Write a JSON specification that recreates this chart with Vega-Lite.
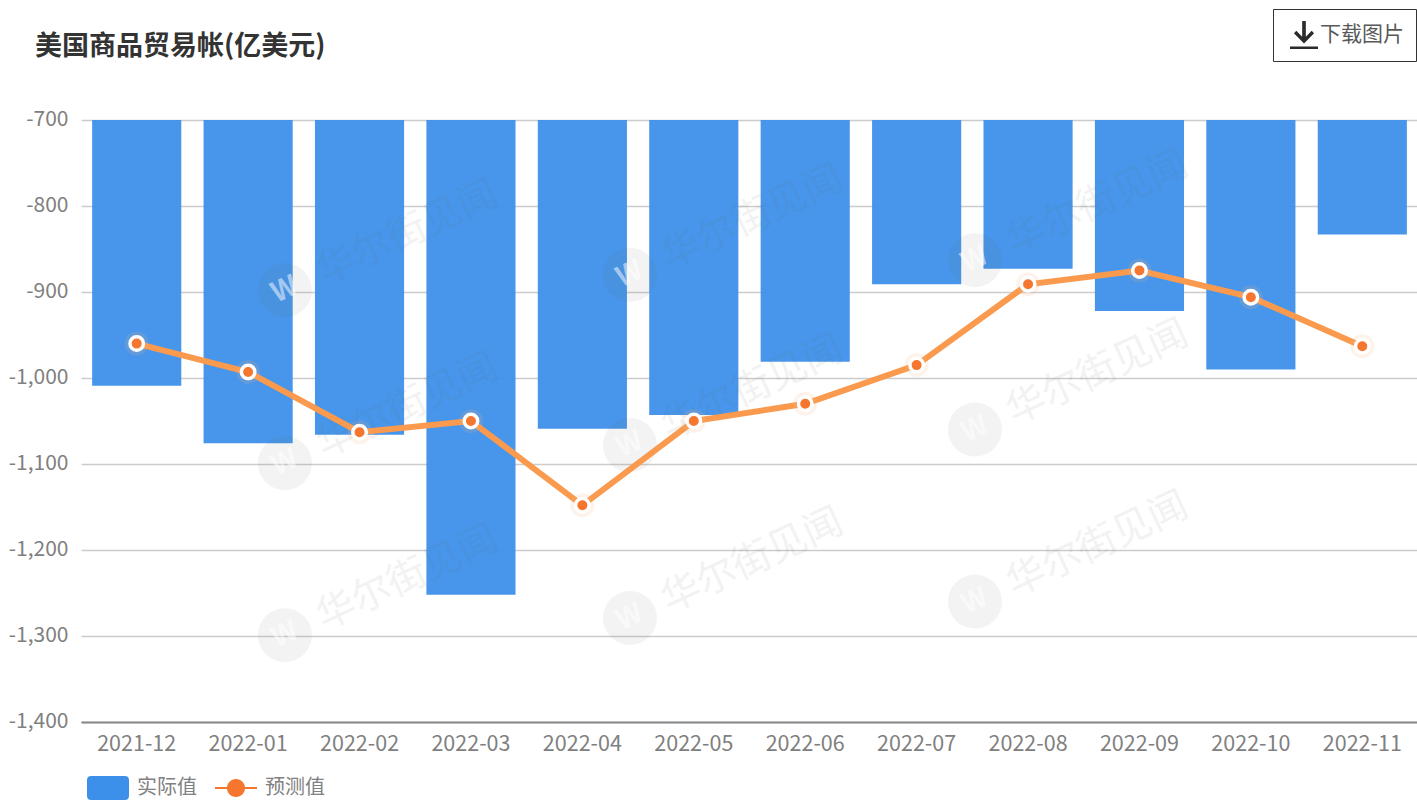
{
  "$schema": "https://vega.github.io/schema/vega-lite/v6.json",
  "width": 1337,
  "height": 602,
  "autosize": {"type": "none"},
  "padding": {"left": 81, "top": 120, "right": 0, "bottom": 79},
  "background": "#ffffff",
  "title": {
    "text": "美国商品贸易帐(亿美元)",
    "anchor": "start",
    "frame": "group",
    "dx": -46,
    "dy": 52,
    "offset": 0,
    "font": "Noto Sans CJK SC",
    "fontSize": 27,
    "fontWeight": "bold",
    "color": "#333333"
  },
  "config": {
    "view": {"stroke": null},
    "font": "Noto Sans CJK SC"
  },
  "datasets": {
    "trade": [
      {"month": "2021-12", "actual": -1009, "forecast": -960},
      {"month": "2022-01", "actual": -1076, "forecast": -993},
      {"month": "2022-02", "actual": -1066, "forecast": -1063},
      {"month": "2022-03", "actual": -1252, "forecast": -1050},
      {"month": "2022-04", "actual": -1059, "forecast": -1148},
      {"month": "2022-05", "actual": -1043, "forecast": -1050},
      {"month": "2022-06", "actual": -981, "forecast": -1030},
      {"month": "2022-07", "actual": -891, "forecast": -985},
      {"month": "2022-08", "actual": -873, "forecast": -891},
      {"month": "2022-09", "actual": -922, "forecast": -875},
      {"month": "2022-10", "actual": -990, "forecast": -906},
      {"month": "2022-11", "actual": -833, "forecast": -963}
    ],
    "stamp": [
      {"column": 0, "level": -898},
      {"column": 0, "level": -1099},
      {"column": 0, "level": -1299},
      {"column": 1, "level": -880},
      {"column": 1, "level": -1078},
      {"column": 1, "level": -1279},
      {"column": 2, "level": -863},
      {"column": 2, "level": -1060},
      {"column": 2, "level": -1260}
    ]
  },
  "resolve": {"scale": {"x": "independent"}},
  "layer": [
    {
      "data": {"name": "trade"},
      "mark": {"type": "bar", "opacity": 0.95},
      "encoding": {
        "x": {
          "field": "month",
          "type": "nominal",
          "sort": null,
          "scale": {"paddingInner": 0.2, "paddingOuter": 0.1},
          "axis": {
            "title": null,
            "labelAngle": 0,
            "labelFontSize": 21.5,
            "labelColor": "#808080",
            "labelPadding": 11,
            "ticks": false,
            "domainColor": "#888888",
            "domainWidth": 2,
            "grid": false
          }
        },
        "y": {
          "field": "actual",
          "type": "quantitative",
          "scale": {"domain": [-1400, -700], "nice": false, "zero": false},
          "axis": {
            "title": null,
            "values": [-1400, -1300, -1200, -1100, -1000, -900, -800, -700],
            "labelExpr": "replace(format(datum.value, ','), '−', '-')",
            "labelFontSize": 21,
            "labelColor": "#808080",
            "labelPadding": 13,
            "labelOffset": -0.5,
            "ticks": false,
            "domain": false,
            "grid": true,
            "gridColor": "#cccccc",
            "gridWidth": 1.5
          }
        },
        "y2": {"datum": -700},
        "fill": {
          "datum": "实际值",
          "scale": {"range": ["#3d90ea"]},
          "legend": {
            "title": null,
            "orient": "none",
            "legendX": 6,
            "legendY": 647,
            "symbolType": "M-0.8,-0.57H0.8Q1,-0.57,1,-0.37V0.37Q1,0.57,0.8,0.57H-0.8Q-1,0.57,-1,0.37V-0.37Q-1,-0.57,-0.8,-0.57Z",
            "symbolSize": 1764,
            "symbolOpacity": 1,
            "symbolStrokeWidth": 0,
            "symbolOffset": 0,
            "labelOffset": 8,
            "labelFontSize": 20,
            "labelColor": "#808080",
            "padding": 0
          }
        }
      }
    },
    {
      "data": {"name": "stamp"},
      "mark": {"type": "point", "filled": true, "size": 2916, "color": "#666666", "opacity": 0.08},
      "encoding": {
        "x": {
          "field": "column",
          "type": "quantitative",
          "scale": {"domain": [-0.591, 3.284], "nice": false, "zero": false},
          "axis": null
        },
        "y": {"field": "level", "type": "quantitative"}
      }
    },
    {
      "data": {"name": "stamp"},
      "mark": {
        "type": "text",
        "text": "W",
        "font": "Noto Sans CJK SC",
        "fontWeight": "bold",
        "fontSize": 28,
        "angle": 335,
        "baseline": "middle",
        "color": "#ffffff",
        "opacity": 0.5
      },
      "encoding": {
        "x": {
          "field": "column",
          "type": "quantitative",
          "scale": {"domain": [-0.591, 3.284], "nice": false, "zero": false},
          "axis": null
        },
        "y": {"field": "level", "type": "quantitative"}
      }
    },
    {
      "data": {"name": "stamp"},
      "mark": {
        "type": "text",
        "text": "华尔街见闻",
        "font": "Noto Sans CJK SC",
        "fontSize": 39,
        "angle": 335,
        "baseline": "middle",
        "dx": 135,
        "dy": 0,
        "color": "#666666",
        "opacity": 0.08
      },
      "encoding": {
        "x": {
          "field": "column",
          "type": "quantitative",
          "scale": {"domain": [-0.591, 3.284], "nice": false, "zero": false},
          "axis": null
        },
        "y": {"field": "level", "type": "quantitative"}
      }
    },
    {
      "data": {"name": "trade"},
      "mark": {"type": "line", "strokeWidth": 6},
      "encoding": {
        "x": {"field": "month", "type": "nominal", "sort": null, "axis": null},
        "y": {"field": "forecast", "type": "quantitative"},
        "stroke": {
          "datum": "预测值",
          "scale": {"range": ["#f99a4e"]},
          "legend": {
            "title": null,
            "orient": "none",
            "legendX": 134,
            "legendY": 647,
            "symbolType": "M-1,-0.05H1V0.05H-1ZM-0.43,0A0.43,0.43 0 1 1 0.43,0A0.43,0.43 0 1 1 -0.43,0Z",
            "symbolSize": 1764,
            "symbolFillColor": "#f5762f",
            "symbolStrokeWidth": 0,
            "symbolOffset": 0,
            "labelOffset": 8,
            "labelFontSize": 20,
            "labelColor": "#808080",
            "padding": 0
          }
        }
      }
    },
    {
      "data": {"name": "trade"},
      "mark": {"type": "point", "filled": true, "size": 576, "color": "#fbb27c", "opacity": 0.16},
      "encoding": {
        "x": {"field": "month", "type": "nominal", "sort": null, "axis": null},
        "y": {"field": "forecast", "type": "quantitative"}
      }
    },
    {
      "data": {"name": "trade"},
      "mark": {"type": "point", "filled": true, "size": 182, "fill": "#f5762f", "stroke": "#ffffff", "strokeWidth": 3.5, "opacity": 1},
      "encoding": {
        "x": {"field": "month", "type": "nominal", "sort": null, "axis": null},
        "y": {"field": "forecast", "type": "quantitative"}
      }
    },
    {
      "data": {"values": [{"action": "下载图片"}]},
      "mark": {"type": "point", "opacity": 0, "filled": true, "color": "#2b2b2b"},
      "encoding": {
        "shape": {
          "field": "action",
          "type": "nominal",
          "scale": {"range": ["M-1,0.82H1V1H-1ZM-0.13,-1H0.13V0.12L0.55,-0.3L0.72,-0.13L0,0.6L-0.72,-0.13L-0.55,-0.3L-0.13,0.12Z"]},
          "legend": {
            "title": null,
            "orient": "none",
            "legendX": 1192,
            "legendY": -111,
            "symbolSize": 784,
            "symbolOpacity": 1,
            "symbolFillColor": "#2b2b2b",
            "symbolStrokeWidth": 0,
            "symbolOffset": 5,
            "labelOffset": 2,
            "labelFontSize": 21,
            "labelColor": "#595959",
            "padding": 12,
            "strokeColor": "#333333",
            "fillColor": "#ffffff"
          }
        }
      }
    }
  ]
}
